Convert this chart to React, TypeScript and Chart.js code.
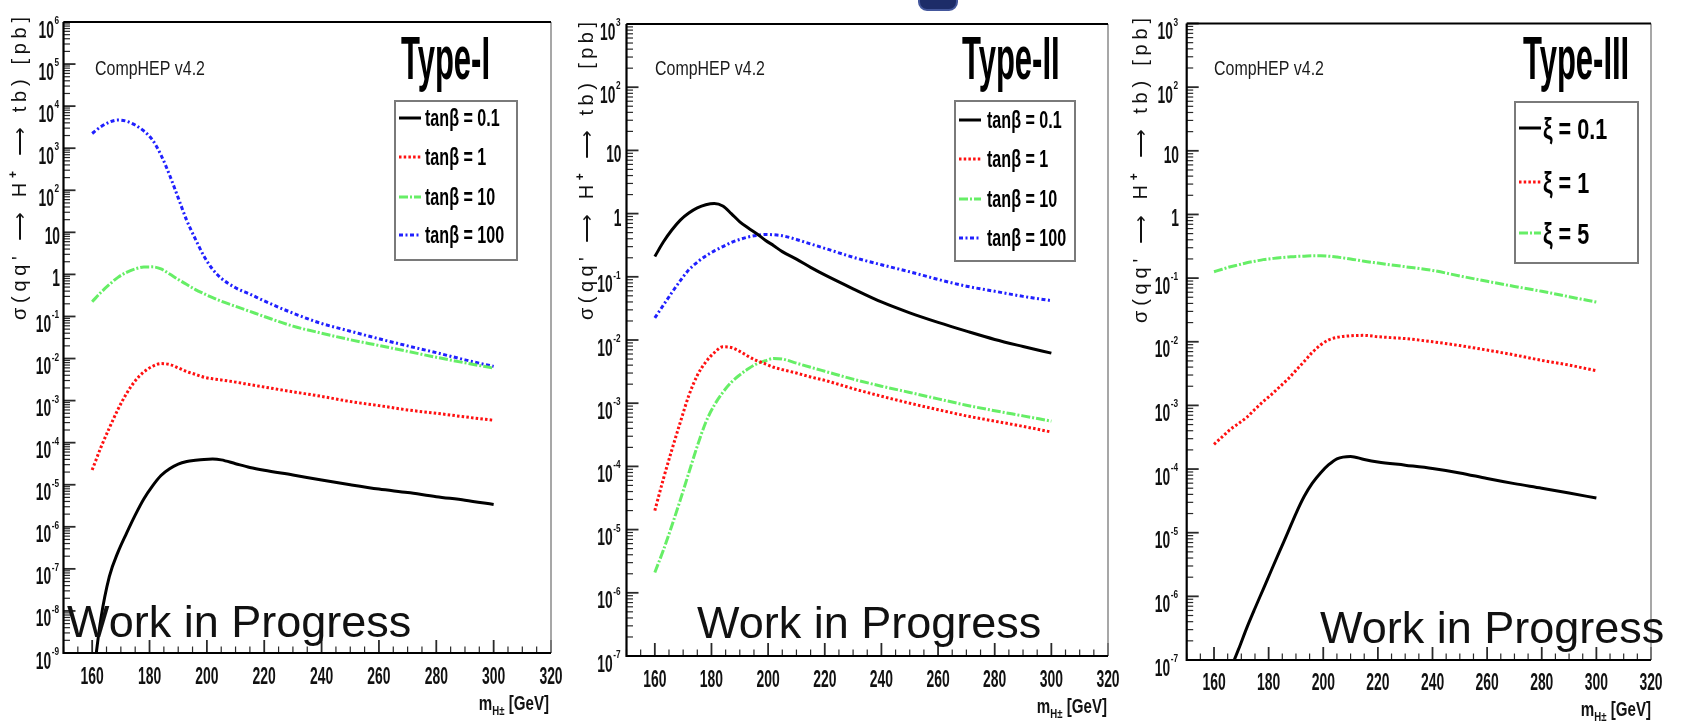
import React, { useEffect, useRef } from "react";
import { Chart, registerables } from "chart.js";
Chart.register(...registerables);

// ---------------- DATA ----------------
const masses = [160, 163, 166, 169, 172, 175, 178, 181, 184, 187, 190, 193, 196, 199, 202, 205, 210, 215, 220, 230, 240, 250, 260, 270, 280, 290, 300];

// Type-I  (sigma in pb)
const t1Tan01 = [1.6e-10, 6.3e-9, 6.6e-8, 2.5e-7, 7.1e-7, 1.9e-6, 4.6e-6, 9.3e-6, 1.66e-5, 2.4e-5, 3.1e-5, 3.55e-5, 3.8e-5, 4.0e-5, 4.07e-5, 3.9e-5, 3.16e-5, 2.57e-5, 2.2e-5, 1.7e-5, 1.29e-5, 1.0e-5, 7.9e-6, 6.5e-6, 5.2e-6, 4.3e-6, 3.4e-6];
const t1Tan1 = [2.24e-5, 7.6e-5, 2.24e-4, 6.2e-4, 1.48e-3, 2.95e-3, 4.8e-3, 6.5e-3, 7.6e-3, 7.2e-3, 6.0e-3, 4.9e-3, 4.2e-3, 3.6e-3, 3.3e-3, 3.1e-3, 2.75e-3, 2.4e-3, 2.1e-3, 1.62e-3, 1.26e-3, 9.5e-4, 7.6e-4, 6.0e-4, 5.0e-4, 4.1e-4, 3.4e-4];
const t1Tan10 = [0.224, 0.37, 0.575, 0.85, 1.12, 1.35, 1.5, 1.51, 1.35, 1.02, 0.76, 0.575, 0.436, 0.347, 0.28, 0.23, 0.174, 0.132, 0.1, 0.059, 0.04, 0.028, 0.0204, 0.0148, 0.0107, 0.0079, 0.0059];
const t1Tan100 = [2240, 3240, 4170, 4680, 4370, 3550, 2570, 1580, 690, 229, 66, 19, 6.9, 2.7, 1.32, 0.81, 0.48, 0.34, 0.234, 0.12, 0.068, 0.0447, 0.0295, 0.02, 0.0138, 0.0093, 0.0065];

// Type-II
const t2Tan01 = [0.209, 0.355, 0.55, 0.79, 1.02, 1.23, 1.38, 1.445, 1.32, 1.0, 0.74, 0.59, 0.48, 0.38, 0.31, 0.25, 0.19, 0.141, 0.107, 0.0646, 0.04, 0.0269, 0.019, 0.0138, 0.0102, 0.0079, 0.0062];
const t2Tan1 = [2.0e-5, 6.3e-5, 1.82e-4, 5.0e-4, 1.32e-3, 2.75e-3, 4.5e-3, 6.3e-3, 7.8e-3, 7.6e-3, 6.6e-3, 5.5e-3, 4.7e-3, 4.2e-3, 3.7e-3, 3.4e-3, 3.0e-3, 2.6e-3, 2.3e-3, 1.7e-3, 1.29e-3, 1.0e-3, 7.9e-4, 6.3e-4, 5.2e-4, 4.3e-4, 3.5e-4];
const t2Tan10 = [2.1e-6, 4.7e-6, 1.15e-5, 2.95e-5, 7.9e-5, 2.1e-4, 5.0e-4, 9.3e-4, 1.48e-3, 2.14e-3, 2.8e-3, 3.5e-3, 4.2e-3, 4.7e-3, 5.1e-3, 5.0e-3, 4.3e-3, 3.7e-3, 3.2e-3, 2.4e-3, 1.86e-3, 1.48e-3, 1.17e-3, 9.3e-4, 7.6e-4, 6.3e-4, 5.2e-4];
const t2Tan100 = [0.0224, 0.0355, 0.056, 0.087, 0.129, 0.17, 0.214, 0.257, 0.3, 0.35, 0.39, 0.427, 0.452, 0.468, 0.462, 0.447, 0.39, 0.331, 0.282, 0.204, 0.155, 0.12, 0.091, 0.071, 0.059, 0.049, 0.042];

// Type-III
const t3Xi01 = [1.6e-8, 3.4e-8, 7.1e-8, 1.48e-7, 3.2e-7, 6.5e-7, 1.29e-6, 2.57e-6, 5.1e-6, 1.0e-5, 2.0e-5, 3.7e-5, 6.0e-5, 8.7e-5, 1.17e-4, 1.45e-4, 1.58e-4, 1.41e-4, 1.29e-4, 1.15e-4, 1.02e-4, 8.7e-5, 7.1e-5, 5.9e-5, 5.0e-5, 4.2e-5, 3.5e-5];
const t3Xi1 = [2.45e-4, 3.2e-4, 4.2e-4, 5.2e-4, 6.5e-4, 8.7e-4, 1.15e-3, 1.48e-3, 1.95e-3, 2.57e-3, 3.55e-3, 4.9e-3, 6.8e-3, 8.9e-3, 1.07e-2, 1.17e-2, 1.24e-2, 1.26e-2, 1.2e-2, 1.12e-2, 1.0e-2, 8.7e-3, 7.4e-3, 6.2e-3, 5.1e-3, 4.3e-3, 3.5e-3];
const t3Xi5 = [0.126, 0.138, 0.151, 0.162, 0.174, 0.184, 0.195, 0.202, 0.209, 0.214, 0.219, 0.221, 0.224, 0.224, 0.221, 0.214, 0.2, 0.184, 0.172, 0.151, 0.132, 0.108, 0.089, 0.074, 0.062, 0.051, 0.042];

const xTickLabels = [160, 180, 200, 220, 240, 260, 280, 300, 320];
const tanLabels = ["tanβ = 0.1", "tanβ = 1", "tanβ = 10", "tanβ = 100"];
const xiLabels = ["ξ = 0.1", "ξ = 1", "ξ = 5"];
const panelTitles = ["Type-I", "Type-II", "Type-III"];
const generatorText = "CompHEP v4.2";
const wipText = "Work in Progress";
const yTitleText = "σ(qq' ⟶ H⁺ ⟶ tb) [pb]";

// ---------------- STYLES ----------------
const FONT = '"Liberation Sans", Arial, Helvetica, sans-serif';
const sBlack = { borderColor: "#000000", borderWidth: 3, borderDash: [] as number[] };
const sRed = { borderColor: "#ff1010", borderWidth: 3, borderDash: [2.5, 2.2] };
const sGreen = { borderColor: "#66ee66", borderWidth: 3, borderDash: [9, 2, 2, 2] };
const sBlue = { borderColor: "#2020ff", borderWidth: 3, borderDash: [4, 2.5, 2, 2.5] };

type Panel = {
  series: number[][];
  labels: string[];
  styles: any[];
  title: string;
  area: { l: number; r: number; t: number; b: number };
  yMin: number;
  yMax: number;
  yTitleX: number; yTitleStart: number; yTitleEnd: number;
  yLabelRight: number;
  xLabelY: number;
  xTitleRight: number; xTitleBase: number;
  genX: number;
  typeX: number;
  box: { x: number; y: number; w: number; h: number };
  rows: number[];
  sample: [number, number];
  textX: number;
  legSize: number;
  legSx: number;
  wipX: number; wipBase: number;
};

const panels: Panel[] = [
  {
    series: [t1Tan01, t1Tan1, t1Tan10, t1Tan100], labels: tanLabels, styles: [sBlack, sRed, sGreen, sBlue],
    title: panelTitles[0],
    area: { l: 63.5, r: 551, t: 22, b: 653 }, yMin: -9, yMax: 6,
    yTitleX: 26, yTitleStart: 320, yTitleEnd: 17, yLabelRight: 59, xLabelY: 675,
    xTitleRight: 549, xTitleBase: 710, genX: 95, typeX: 401,
    box: { x: 395, y: 101, w: 122, h: 159 }, rows: [118, 157, 197, 235], sample: [399, 421], textX: 425,
    legSize: 23, legSx: 0.7, wipX: 67, wipBase: 637,
  },
  {
    series: [t2Tan01, t2Tan1, t2Tan10, t2Tan100], labels: tanLabels, styles: [sBlack, sRed, sGreen, sBlue],
    title: panelTitles[1],
    area: { l: 626.5, r: 1108, t: 24, b: 656 }, yMin: -7, yMax: 3,
    yTitleX: 593, yTitleStart: 320, yTitleEnd: 22, yLabelRight: 620.5, xLabelY: 678,
    xTitleRight: 1107, xTitleBase: 713, genX: 655, typeX: 962,
    box: { x: 955, y: 101, w: 120, h: 160 }, rows: [120, 159, 199, 238], sample: [959, 981], textX: 987,
    legSize: 23, legSx: 0.7, wipX: 697, wipBase: 638,
  },
  {
    series: [t3Xi01, t3Xi1, t3Xi5], labels: xiLabels, styles: [sBlack, sRed, sGreen],
    title: panelTitles[2],
    area: { l: 1186.7, r: 1651, t: 23.5, b: 660 }, yMin: -7, yMax: 3,
    yTitleX: 1147, yTitleStart: 323, yTitleEnd: 18, yLabelRight: 1178, xLabelY: 681,
    xTitleRight: 1651, xTitleBase: 716, genX: 1214, typeX: 1523,
    box: { x: 1515, y: 102, w: 123, h: 161 }, rows: [128, 182, 233], sample: [1519, 1541], textX: 1543,
    legSize: 30, legSx: 0.72, wipX: 1320, wipBase: 643,
  },
];

// ---------------- HELPERS ----------------
function measure(ctx: CanvasRenderingContext2D, s: string, size: number, weight: string, sx: number) {
  ctx.save();
  ctx.font = `${weight} ${size}px ${FONT}`;
  const w = ctx.measureText(s).width * sx;
  ctx.restore();
  return w;
}

function txt(ctx: CanvasRenderingContext2D, s: string, x: number, y: number, size: number, weight: string, sx: number, align = "left", color = "#000") {
  ctx.save();
  ctx.font = `${weight} ${size}px ${FONT}`;
  ctx.fillStyle = color;
  ctx.textBaseline = "alphabetic";
  ctx.textAlign = "left";
  const w = ctx.measureText(s).width * sx;
  const x0 = align === "right" ? x - w : align === "center" ? x - w / 2 : x;
  ctx.translate(x0, y);
  ctx.scale(sx, 1);
  ctx.fillText(s, 0, 0);
  ctx.restore();
  return w;
}

function drawYTitle(ctx: CanvasRenderingContext2D, p: Panel) {
  const size = 20;
  ctx.save();
  ctx.translate(p.yTitleX, p.yTitleStart);
  ctx.rotate(-Math.PI / 2);
  ctx.fillStyle = "#111";
  ctx.textBaseline = "alphabetic";
  const chars = Array.from(yTitleText);
  const widths = chars.map((c) => {
    if (c === "⁺") { ctx.font = `bold 12px ${FONT}`; return ctx.measureText("+").width; }
    ctx.font = `normal ${size}px ${FONT}`;
    return ctx.measureText(c).width;
  });
  const total = p.yTitleStart - p.yTitleEnd;
  const sum = widths.reduce((a, b) => a + b, 0);
  const gap = (total - sum) / (chars.length - 1);
  let x = 0;
  chars.forEach((c, i) => {
    if (c === "⁺") {
      ctx.font = `bold 12px ${FONT}`;
      ctx.fillText("+", x, -9);
    } else {
      ctx.font = `normal ${size}px ${FONT}`;
      ctx.fillText(c, x, 0);
    }
    x += widths[i] + gap;
  });
  ctx.restore();
}

function makePlugin(p: Panel) {
  return {
    id: "rootStyle",
    afterDraw(chart: any) {
      const ctx: CanvasRenderingContext2D = chart.ctx;
      const xs = chart.scales.x;
      const ys = chart.scales.y;
      const { left, right, top, bottom } = chart.chartArea;

      // ticks (inside the frame)
      ctx.save();
      ctx.strokeStyle = "#2a2a2a";
      for (let e = p.yMin; e <= p.yMax; e++) {
        for (let k = 1; k <= 9; k++) {
          const v = k * Math.pow(10, e);
          if (v > Math.pow(10, p.yMax) * 1.0001) break;
          const py = ys.getPixelForValue(v);
          ctx.lineWidth = k === 1 ? 1.8 : 1.2;
          const len = k === 1 ? 12 : 6.5;
          ctx.beginPath();
          ctx.moveTo(left, py);
          ctx.lineTo(left + len, py);
          ctx.stroke();
        }
      }
      for (let m = 150; m <= 320; m += 5) {
        const px = xs.getPixelForValue(m);
        const major = m % 20 === 0;
        ctx.lineWidth = major ? 1.8 : 1.2;
        const len = major ? 13 : 6.5;
        ctx.beginPath();
        ctx.moveTo(px, bottom);
        ctx.lineTo(px, bottom - len);
        ctx.stroke();
      }
      ctx.restore();

      // frame
      ctx.save();
      ctx.strokeStyle = "#8a8a8a";
      ctx.lineWidth = 1.5;
      ctx.beginPath();
      ctx.moveTo(right, top);
      ctx.lineTo(right, bottom);
      ctx.stroke();
      ctx.strokeStyle = "#000";
      ctx.lineWidth = 2.2;
      ctx.beginPath();
      ctx.moveTo(left, top);
      ctx.lineTo(right, top);
      ctx.moveTo(left, top);
      ctx.lineTo(left, bottom);
      ctx.lineTo(right, bottom);
      ctx.stroke();
      ctx.restore();

      // y tick labels
      for (let e = p.yMin; e <= p.yMax; e++) {
        const py = ys.getPixelForValue(Math.pow(10, e));
        if (e === 0 || e === 1) {
          txt(ctx, e === 0 ? "1" : "10", p.yLabelRight + 1, py + 12, 23, "bold", 0.6, "right", "#111");
        } else {
          const es = String(e);
          const ew = txt(ctx, es, p.yLabelRight, py + 2, 11, "bold", 0.75, "right", "#111");
          txt(ctx, "10", p.yLabelRight - ew - 0.5, py + 15.5, 23, "bold", 0.6, "right", "#111");
        }
      }

      // x tick labels
      xTickLabels.forEach((v) => {
        txt(ctx, String(v), xs.getPixelForValue(v), p.xLabelY + 8.5, 24, "bold", 0.58, "center", "#111");
      });

      // x title: m_{H±} [GeV]
      {
        const w1 = measure(ctx, "m", 21, "bold", 0.72);
        const w2 = measure(ctx, "H±", 12, "bold", 0.8);
        const w3 = measure(ctx, " [GeV]", 21, "bold", 0.72);
        let x = p.xTitleRight - (w1 + w2 + w3);
        txt(ctx, "m", x, p.xTitleBase, 21, "bold", 0.72, "left", "#111");
        x += w1;
        txt(ctx, "H±", x, p.xTitleBase + 5, 12, "bold", 0.8, "left", "#111");
        x += w2;
        txt(ctx, " [GeV]", x, p.xTitleBase, 21, "bold", 0.72, "left", "#111");
      }

      // y title
      drawYTitle(ctx, p);

      // generator text and type title
      txt(ctx, generatorText, p.genX, 75, 21, "normal", 0.76, "left", "#1a1a1a");
      txt(ctx, p.title, p.typeX, 79, 62, "bold", 0.5, "left", "#000");

      // legend
      ctx.save();
      ctx.fillStyle = "#ffffff";
      ctx.fillRect(p.box.x, p.box.y, p.box.w, p.box.h);
      ctx.strokeStyle = "#7a7a7a";
      ctx.lineWidth = 2;
      ctx.strokeRect(p.box.x, p.box.y, p.box.w, p.box.h);
      ctx.restore();
      chart.data.datasets.forEach((ds: any, i: number) => {
        const ry = p.rows[i];
        ctx.save();
        ctx.strokeStyle = ds.borderColor;
        ctx.lineWidth = ds.borderWidth;
        ctx.setLineDash(ds.borderDash || []);
        ctx.beginPath();
        ctx.moveTo(p.sample[0], ry);
        ctx.lineTo(p.sample[1], ry);
        ctx.stroke();
        ctx.restore();
        txt(ctx, ds.label, p.textX, ry + p.legSize * 0.36, p.legSize, "bold", p.legSx, "left", "#000");
      });

      // work in progress
      txt(ctx, wipText, p.wipX, p.wipBase, 45, "normal", 1.0, "left", "#111");
    },
  };
}

function PanelChart({ p }: { p: Panel }) {
  const ref = useRef<HTMLCanvasElement>(null);
  useEffect(() => {
    const canvas = ref.current!;
    const chart = new Chart(canvas, {
      type: "line",
      data: {
        datasets: p.series.map((vals, i) => ({
          label: p.labels[i],
          data: masses.map((m, j) => ({ x: m, y: vals[j] })),
          borderColor: p.styles[i].borderColor,
          borderWidth: p.styles[i].borderWidth,
          borderDash: p.styles[i].borderDash,
          borderCapStyle: "butt",
          borderJoinStyle: "round",
          pointRadius: 0,
          fill: false,
          cubicInterpolationMode: "monotone",
        })),
      },
      options: {
        responsive: false,
        animation: false,
        devicePixelRatio: 1,
        layout: {
          padding: { left: p.area.l, right: 1690 - p.area.r, top: p.area.t, bottom: 723 - p.area.b },
        },
        plugins: { legend: { display: false }, tooltip: { enabled: false } },
        scales: {
          x: { type: "linear", min: 150, max: 320, display: false },
          y: { type: "logarithmic", min: Math.pow(10, p.yMin), max: Math.pow(10, p.yMax), display: false },
        },
      } as any,
      plugins: [makePlugin(p)],
    } as any);
    return () => chart.destroy();
  }, [p]);
  return <canvas ref={ref} width={1690} height={723} style={{ position: "absolute", left: 0, top: 0, width: 1690, height: 723 }} />;
}

export default function App() {
  return (
    <div style={{ position: "absolute", left: 0, top: 0, width: 1690, height: 723, background: "#fff", overflow: "hidden" }}>
      <div style={{ position: "absolute", left: 918, top: -6, width: 36, height: 13, background: "#1d2c68", border: "2px solid #44579c", borderRadius: "0 0 9px 9px" }} />
      {panels.map((p, i) => (
        <PanelChart key={i} p={p} />
      ))}
    </div>
  );
}
